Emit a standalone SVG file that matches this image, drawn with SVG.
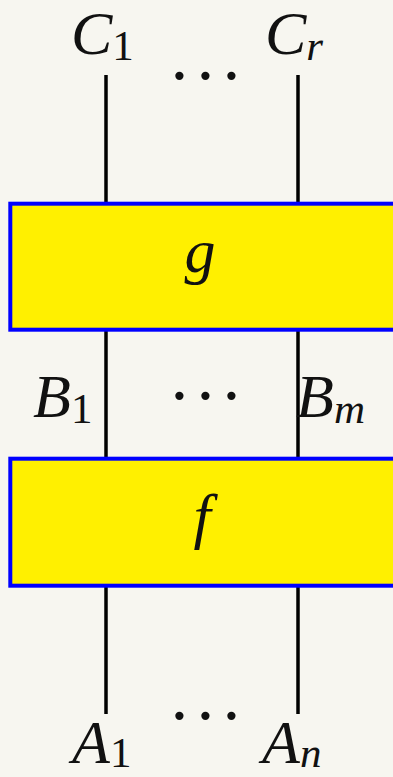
<svg xmlns="http://www.w3.org/2000/svg" width="393" height="777" viewBox="0 0 393 777">
<style>
.box{fill:#fff000;stroke:#0000ff;stroke-width:4}
.wire{stroke:#000;stroke-width:3.5;fill:none}
.m{font-family:"Liberation Serif",serif;font-style:italic;font-size:62px;fill:#111}
.s{font-size:43px}
.u{font-style:normal}
.d{font-family:"Liberation Serif",serif;font-size:70px;fill:#111}
</style>
<rect width="393" height="777" fill="#f7f6f0"/>
<g id="connectors">
<line class="wire" x1="106" y1="75" x2="106" y2="204"/>
<line class="wire" x1="298" y1="75" x2="298" y2="204"/>
<line class="wire" x1="106" y1="329" x2="106" y2="459"/>
<line class="wire" x1="298" y1="329" x2="298" y2="459"/>
<line class="wire" x1="106" y1="585" x2="106" y2="714"/>
<line class="wire" x1="298" y1="585" x2="298" y2="714"/>
</g>
<g id="node-g">
<rect class="box" x="10.3" y="203.7" width="400" height="126"/>
<text class="m" x="200" y="272" text-anchor="middle">g</text>
</g>
<g id="node-f">
<rect class="box" x="10.3" y="458.7" width="400" height="127"/>
<text class="m" x="202" y="537" text-anchor="middle">f</text>
</g>
<g id="labels-top">
<text class="m" x="71" y="54">C<tspan class="s u" y="60">1</tspan></text>
<text class="m" x="265" y="54">C<tspan class="s" y="60">r</tspan></text>
<text class="d" x="167.75 193.75 219.75" y="99">···</text>
</g>
<g id="labels-mid">
<text class="m" x="33" y="417">B<tspan class="s u" y="423">1</tspan></text>
<text class="m" x="296" y="417">B<tspan class="s" y="423">m</tspan></text>
<text class="d" x="167.75 193.75 219.75" y="419">···</text>
</g>
<g id="labels-bottom">
<text class="m" x="72" y="763">A<tspan class="s u" y="767">1</tspan></text>
<text class="m" x="262" y="763">A<tspan class="s" y="767">n</tspan></text>
<text class="d" x="167.75 193.75 219.75" y="739">···</text>
</g>
</svg>
